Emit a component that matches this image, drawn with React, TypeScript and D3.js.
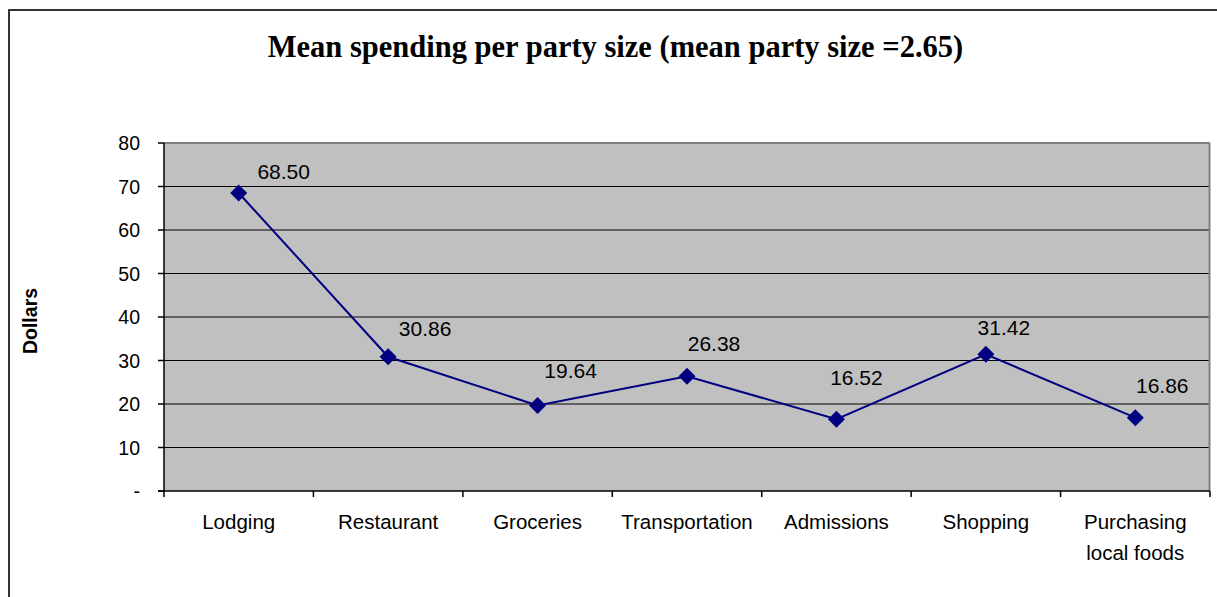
import React from "react";
import * as d3 from "d3";

const categories: string[][] = [
  ["Lodging"],
  ["Restaurant"],
  ["Groceries"],
  ["Transportation"],
  ["Admissions"],
  ["Shopping"],
  ["Purchasing", "local foods"],
];
const values: number[] = [68.5, 30.86, 19.64, 26.38, 16.52, 31.42, 16.86];
const yTicks: number[] = [0, 10, 20, 30, 40, 50, 60, 70, 80];
const title = "Mean spending per party size (mean party size =2.65)";
const yTitle = "Dollars";

// label placement offsets (relative to marker), as in the reference
const labelDx = [45, 37, 33, 27, 20, 18, 27];
const labelDy = [-22, -28, -35, -33, -42, -27, -32];

const W = 1217;
const H = 597;
const plot = { left: 164, right: 1210, top: 143, bottom: 491 };
const SANS = "'Liberation Sans', Arial, sans-serif";
const SERIF = "'Liberation Serif', 'Times New Roman', serif";

export default function App() {
  const keys = categories.map((c) => c.join(" "));
  const x = d3.scaleBand<string>().domain(keys).range([plot.left, plot.right]).padding(0);
  const y = d3.scaleLinear().domain([0, 80]).range([plot.bottom, plot.top]);
  const bw = x.bandwidth();
  const pts = values.map((v, i) => [x(keys[i])! + bw / 2, y(v)] as [number, number]);
  const line = d3.line<[number, number]>().x((d) => d[0]).y((d) => d[1]);
  const boundaries = [...keys.map((k) => x(k)!), plot.right];
  const m = 8.5;

  return (
    <div style={{ position: "absolute", left: 0, top: 0 }}>
      <svg width={W} height={H} style={{ display: "block" }}>
        <rect x={0} y={0} width={W} height={H} fill="#fff" />
        <rect x={9} y={10} width={W + 20} height={H + 20} fill="none" stroke="#333" strokeWidth={2} />
        <text x={615.5} y={57} textAnchor="middle" fontFamily={SERIF} fontWeight="bold" fontSize={30.5} fill="#000">
          {title}
        </text>
        {/* plot area */}
        <rect x={plot.left} y={plot.top} width={plot.right - plot.left} height={plot.bottom - plot.top} fill="#C0C0C0" />
        {yTicks.filter((t) => t > 0 && t < 80).map((t) => (
          <line key={t} x1={plot.left} x2={plot.right} y1={y(t)} y2={y(t)} stroke="#000" strokeWidth={1} />
        ))}
        <line x1={plot.left} x2={plot.right} y1={plot.top} y2={plot.top} stroke="#808080" strokeWidth={2} />
        <line x1={plot.right - 0.5} x2={plot.right - 0.5} y1={plot.top} y2={plot.bottom} stroke="#808080" strokeWidth={2} />
        {/* axes */}
        <line x1={plot.left} x2={plot.left} y1={plot.top} y2={plot.bottom} stroke="#000" strokeWidth={1.5} />
        <line x1={plot.left - 6} x2={plot.right} y1={plot.bottom} y2={plot.bottom} stroke="#000" strokeWidth={1.5} />
        {yTicks.map((t) => (
          <g key={t}>
            <line x1={plot.left - 6} x2={plot.left} y1={y(t)} y2={y(t)} stroke="#000" strokeWidth={1.5} />
            <text x={140} y={y(t) + 7} textAnchor="end" fontFamily={SANS} fontSize={19.5} fill="#000">
              {t === 0 ? "-" : String(t)}
            </text>
          </g>
        ))}
        {boundaries.map((b, i) => (
          <line key={i} x1={b} x2={b} y1={plot.bottom} y2={plot.bottom + 6} stroke="#000" strokeWidth={1.5} />
        ))}
        {categories.map((c, i) => (
          <text key={i} textAnchor="middle" fontFamily={SANS} fontSize={20.5} fill="#000">
            {c.map((ln, j) => (
              <tspan key={j} x={x(keys[i])! + bw / 2} y={529 + j * 31}>
                {ln}
              </tspan>
            ))}
          </text>
        ))}
        <text
          transform={`translate(37,321) rotate(-90)`}
          textAnchor="middle"
          fontFamily={SANS}
          fontWeight="bold"
          fontSize={19.5}
          fill="#000"
        >
          {yTitle}
        </text>
        {/* series */}
        <path d={line(pts)!} fill="none" stroke="#000080" strokeWidth={2} />
        {pts.map(([px, py], i) => (
          <path key={i} d={`M${px},${py - m}L${px + m},${py}L${px},${py + m}L${px - m},${py}Z`} fill="#000080" />
        ))}
        {pts.map(([px, py], i) => (
          <text
            key={i}
            x={px + labelDx[i]}
            y={py + labelDy[i] + 7.5}
            textAnchor="middle"
            fontFamily={SANS}
            fontSize={21}
            fill="#000"
          >
            {values[i].toFixed(2)}
          </text>
        ))}
      </svg>
    </div>
  );
}
